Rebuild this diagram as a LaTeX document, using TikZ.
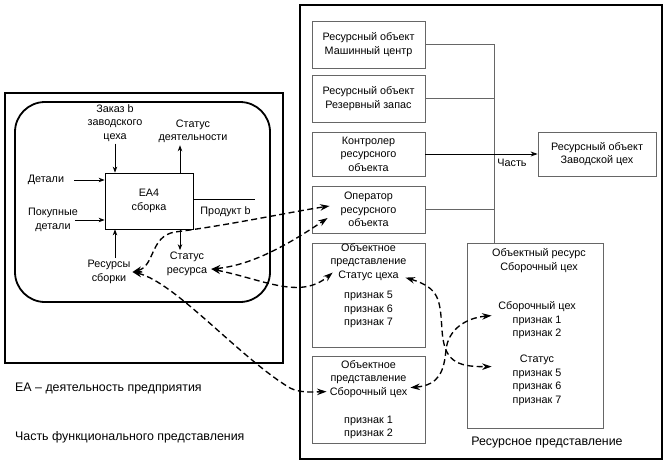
\documentclass[tikz,border=0pt]{standalone}
\usepackage{fontspec}
\setmainfont{Liberation Sans}
\usetikzlibrary{arrows.meta,calc}
\newcommand\fsz{\fontsize{10.8}{13.5}\selectfont}
\newcommand\fbig{\fontsize{12.4}{15}\selectfont}
\begin{document}
\begin{tikzpicture}[x=1pt,y=-1pt,
 txt/.style={font=\fsz, align=center, inner sep=2pt},
 bigtxt/.style={font=\fbig, align=center, inner sep=2pt},
 rbox/.style={draw=black!60, line width=0.8pt, minimum width=113pt, inner sep=0pt, font=\fsz, align=center},
 outerframe/.style={draw, line width=1.8pt, inner sep=0pt},
 sarr/.style={line width=0.8pt, -{Stealth[length=6pt,width=4.5pt]}},
 darr/.style={line width=1.35pt, dash pattern=on 6pt off 3.5pt, {Stealth[length=9.5pt,width=6.5pt]}-{Stealth[length=9.5pt,width=6.5pt]}},
 conn/.style={draw=black!60, line width=0.8pt}]
\useasboundingbox (0,0) rectangle (667,464);
% frames
\node[outerframe, minimum width=278pt, minimum height=270pt] (lf) at (144,228) {};
\node[outerframe, rounded corners=30pt, minimum width=255pt, minimum height=200pt] (rr) at (142.5,202) {};
\node[outerframe, minimum width=362pt, minimum height=454pt] (rf) at (481,232) {};
% left: activity
\node[draw, line width=0.8pt, minimum width=88pt, minimum height=56pt, font=\fsz, align=center] (ea) at (149,201) {EA4\\сборка};
\node[txt] (zk) at (115,123) {Заказ b\\заводского\\цеха};
\node[txt] (sd) at (193,131.5) {Статус\\деятельности};
\node[txt] (dt) at (46,180) {Детали};
\node[txt] (pd) at (53,220) {Покупные\\детали};
\node[txt] (pb) at (225.5,212) {Продукт b};
\node[txt] (sr) at (187,264) {Статус\\ресурса};
\node[txt] (rs) at (109,272) {Ресурсы\\сборки};
\coordinate (pe) at (255,199);
\draw[sarr] (zk.south) -- (zk.south |- ea.north);
\draw[sarr] ([xshift=31pt]ea.north) -- ([xshift=31pt]ea.north |- sd.south);
\draw[sarr] ([xshift=8pt]dt.east) -- (dt.east -| ea.west);
\draw[sarr] ([xshift=-5pt]pd.east) -- (pd.east -| ea.west);
\draw[line width=0.8pt] (ea.east |- pe) -- (pe);
\draw[sarr] ([xshift=31pt]ea.south) -- ([xshift=31pt]ea.south |- sr.north);
\draw[sarr] (rs.north -| zk.south) -- (ea.south -| zk.south);
\node[bigtxt, anchor=west] (ea1) at (13,389) {EA – деятельность предприятия};
\node[bigtxt, anchor=west] (ea2) at (13,437) {Часть функционального представления};
% right: resources
\node[rbox, minimum height=47pt] (b1) at (368.5,44.5) {Ресурсный объект\\Машинный центр};
\node[rbox, minimum height=47pt] (b2) at (368.5,98.5) {Ресурсный объект\\Резервный запас};
\node[rbox, minimum height=44pt] (b3) at (368.5,154) {Контролер\\ресурсного\\объекта};
\node[rbox, minimum height=47pt] (b4) at (368.5,209.5) {Оператор\\ресурсного\\объекта};
\node[rbox, minimum height=104pt] (b5) at (368.5,295) {};
\node[txt] (b5a) at (368.5,262) {Объектное\\представление\\Статус цеха};
\node[txt] (b5b) at (368.5,309.5) {признак 5\\признак 6\\признак 7};
\node[rbox, minimum height=87pt] (b6) at (368.5,399.5) {};
\node[txt] (b6a) at (368.5,379) {Объектное\\представление\\Сборочный цех};
\node[txt] (b6b) at (368.5,427.5) {признак 1\\признак 2};
\node[rbox, minimum width=118pt, minimum height=44pt] (bz) at (597,154) {Ресурсный объект\\Заводской цех};
\node[rbox, minimum width=136pt, minimum height=185pt] (bb) at (535,335.5) {};
\node[txt] (bb1) at (539,260.5) {Объектный ресурс\\Сборочный цех};
\node[txt] (bb2) at (537,320.5) {Сборочный цех\\признак 1\\признак 2};
\node[txt] (bb3) at (537,380.5) {Статус\\признак 5\\признак 6\\признак 7};
\node[bigtxt] (rp) at (547,443) {Ресурсное представление};
\node[txt] (ch) at (512,163) {Часть};
\coordinate (jt) at (494,44.5);
\draw[conn] (b1.east) -- (jt) -- (jt |- bb.north);
\draw[conn] (b2.east) -- (b2.east -| jt);
\draw[conn] (b4.east) -- (b4.east -| jt);
\draw[line width=0.8pt, -{Stealth[length=7pt,width=5pt]}] (b3.east) -- (bz.west);
% dashed links
\draw[darr] (rs.east) .. controls (155,266) and (150,236) .. (175,232) .. controls (230,225) and (290,212) .. ([shift={(18,-3.5)}]b4.west);
\draw[darr] ([shift={(2,5)}]sr.east) .. controls (255,265) and (295,240) .. ([shift={(16,8.5)}]b4.west);
\draw[darr] ([shift={(2,5)}]sr.east) .. controls (265,280) and (300,300) .. ([shift={(21,30)}]b5.north west);
\draw[darr] (rs.east) .. controls (175,282) and (240,358) .. (290,388) .. controls (300,393) and (312,392) .. ([shift={(15,36)}]b6.north west);
\draw[darr] ([shift={(-20,35)}]b5.north east) .. controls (440,288) and (440,300) .. (442,330) .. controls (444,360) and (455,367) .. ([shift={(25,124)}]bb.north west);
\draw[darr] ([shift={(-15,32)}]b6.north east) .. controls (440,385) and (444,370) .. (446,350) .. controls (448,330) and (465,318) .. ([shift={(25,73)}]bb.north west);
\end{tikzpicture}
\end{document}
